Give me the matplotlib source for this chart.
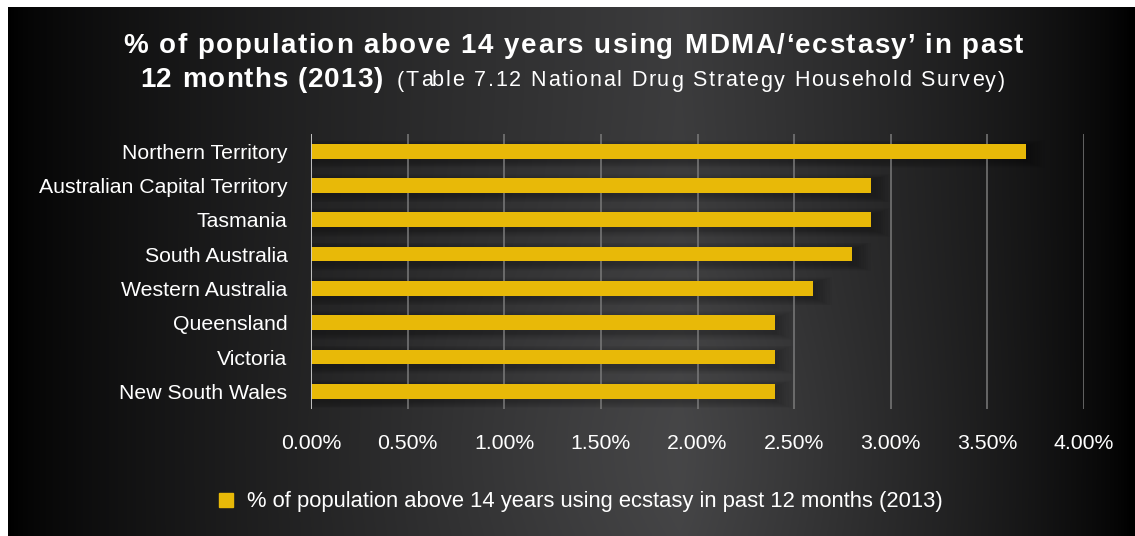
import numpy as np
import matplotlib
matplotlib.use("Agg")
import matplotlib.pyplot as plt
from matplotlib.ticker import FuncFormatter
from matplotlib.font_manager import FontProperties

# Data
states = ["New South Wales", "Victoria", "Queensland", "Western Australia",
          "South Australia", "Tasmania", "Australian Capital Territory",
          "Northern Territory"]
values = [2.4, 2.4, 2.4, 2.6, 2.8, 2.9, 2.9, 3.7]
xticks = [0.0, 0.5, 1.0, 1.5, 2.0, 2.5, 3.0, 3.5, 4.0]
legend_label = "% of population above 14 years using ecstasy in past 12 months (2013)"
title_line1 = "% of population above 14 years using MDMA/\u2018ecstasy\u2019 in past"
title_line2_bold = "12 months (2013)"
title_line2_reg = "(Table 7.12 National Drug Strategy Household Survey)"

BAR = "#E8B908"
FONT = "Liberation Sans"
W, H = 1135, 536
fig = plt.figure(figsize=(W / 100, H / 100), dpi=100)
fig.patch.set_facecolor("white")
renderer = fig.canvas.get_renderer()

# Dark gradient backdrop
bg_ax = fig.add_axes([8 / W, 0, (W - 8) / W, (H - 7) / H])
bg_ax.set_axis_off()
xs = np.linspace(8, W, 600)
ys = np.linspace(7, H, 300)
X, Y = np.meshgrid(xs, ys)
peak = 680.0
h = np.where(X < peak, (X - 8) / (peak - 8), (W - 4 - X) / (W - 4 - peak))
h = np.clip(h, 0, 1) ** 0.7
glow = np.exp(-(((X - 650) / 330) ** 2 + ((Y - 450) / 180) ** 2))
val = (60 * h + 10 * glow * h) / 255.0
img = np.clip(np.dstack([val, val, val * 1.02]), 0, 1)
bg_ax.imshow(img, aspect="auto", extent=[0, 1, 0, 1], origin="upper")
bg_ax.set_xlim(0, 1)
bg_ax.set_ylim(0, 1)


def text_width(s, prop):
    w, _, _ = renderer.get_text_width_height_descent(s, prop, ismath=False)
    return w


def tracked_text(s, x0, x1, yc, prop):
    """Lay out s one glyph at a time so it runs from pixel x0 to x1."""
    bar_w = text_width("|", prop)
    offsets = [text_width(s[:i] + "|", prop) - bar_w if i else 0.0
               for i in range(len(s))]
    natural = text_width(s, prop)
    gap = (x1 - x0 - natural) / max(len(s) - 1, 1)
    for i, ch in enumerate(s):
        if ch == " ":
            continue
        fig.text((x0 + offsets[i] + gap * i) / W, 1 - yc / H, ch,
                 fontproperties=prop, color="white", ha="left", va="center")


title_bold = FontProperties(family=FONT, weight="bold", size=20)
title_reg = FontProperties(family=FONT, size=15.5)
tracked_text(title_line1, 123, 1023, 46, title_bold)
tracked_text(title_line2_bold, 140, 383, 80, title_bold)
tracked_text(title_line2_reg, 397, 1005, 81, title_reg)

# Main axes
left, right = 311 / W, 1084 / W
top, bottom = 1 - 134 / H, 1 - 408.5 / H
ax = fig.add_axes([left, bottom, right - left, top - bottom])
ax.set_facecolor("none")
y = np.arange(len(states))

# Soft shadows beneath bars
for k in range(1, 9):
    ax.barh(y - 0.08, [v + 0.012 * k for v in values], height=0.43 + 0.05 * k,
            left=0, color="black", alpha=0.03, zorder=1, linewidth=0)

ax.barh(y, values, height=0.43, color=BAR, zorder=3, linewidth=0)

ax.set_xlim(0, 4)
ax.set_ylim(-0.5, len(states) - 0.5)
ax.set_xticks(xticks)
ax.xaxis.set_major_formatter(FuncFormatter(lambda v, p: f"{v:.2f}%"))
ax.set_yticks(y)
ax.set_yticklabels(states)
for s in ax.spines.values():
    s.set_visible(False)
ax.tick_params(axis="both", length=0, labelcolor="white", labelsize=15.3)
ax.tick_params(axis="x", pad=18.5)
ax.tick_params(axis="y", pad=17)
for lab in ax.get_xticklabels() + ax.get_yticklabels():
    lab.set_fontfamily(FONT)
for xv in xticks[1:]:
    ax.axvline(xv, color="#7a7a7a", lw=1.1, zorder=2)
ax.axvline(0, color="#cfcfcf", lw=1.3, zorder=4)

# Legend
fig.patches.append(plt.Rectangle((219 / W, 1 - 507 / H), 14 / W, 14 / H,
                                 transform=fig.transFigure, color=BAR))
fig.text(247 / W, 1 - 501 / H, legend_label, color="white", fontsize=15.85,
         ha="left", va="center", family=FONT)

fig.savefig("out.png", dpi=100, facecolor=fig.get_facecolor())
